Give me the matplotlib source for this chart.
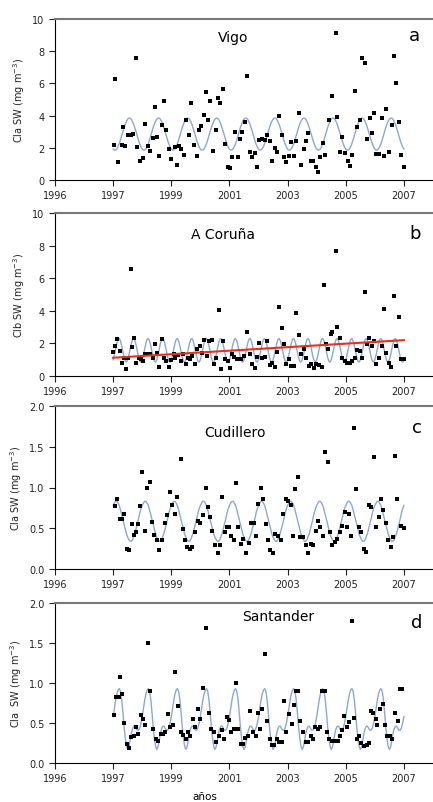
import numpy as np
import matplotlib.pyplot as plt

# Monthly surface chlorophyll observations (decimal year, mg m-3)
vigo_t = [1997.02, 1997.08, 1997.17, 1997.29, 1997.34, 1997.42, 1997.52, 1997.60, 1997.68, 1997.77,
          1997.83, 1997.94, 1998.02, 1998.11, 1998.19, 1998.28, 1998.36, 1998.43, 1998.51, 1998.59,
          1998.69, 1998.75, 1998.82, 1998.91, 1999.00, 1999.11, 1999.18, 1999.26, 1999.35, 1999.43,
          1999.52, 1999.60, 1999.69, 1999.78, 1999.87, 1999.95, 2000.03, 2000.11, 2000.18, 2000.26,
          2000.34, 2000.43, 2000.52, 2000.60, 2000.69, 2000.77, 2000.86, 2000.95, 2001.03, 2001.10,
          2001.19, 2001.28, 2001.36, 2001.44, 2001.53, 2001.61, 2001.69, 2001.78, 2001.87, 2001.95,
          2002.03, 2002.13, 2002.21, 2002.30, 2002.38, 2002.47, 2002.56, 2002.64, 2002.72, 2002.79,
          2002.87, 2002.95, 2003.04, 2003.12, 2003.22, 2003.30, 2003.39, 2003.47, 2003.55, 2003.62,
          2003.71, 2003.79, 2003.87, 2003.96, 2004.05, 2004.13, 2004.21, 2004.30, 2004.44, 2004.53,
          2004.65, 2004.71, 2004.79, 2004.88, 2004.99, 2005.08, 2005.14, 2005.20, 2005.31, 2005.39,
          2005.49, 2005.57, 2005.66, 2005.74, 2005.82, 2005.89, 2005.97, 2006.05, 2006.14, 2006.23,
          2006.31, 2006.39, 2006.48, 2006.60, 2006.66, 2006.74, 2006.83, 2006.91, 2006.99]
vigo_v = [2.2, 6.3, 1.1, 2.2, 3.27, 2.1, 2.8, 2.8, 2.85, 7.55,
          2.03, 1.15, 1.35, 3.45, 2.1, 1.8, 2.6, 4.55, 2.65, 1.5,
          3.4, 4.9, 3.1, 1.9, 1.3, 2.05, 0.95, 2.1, 1.93, 1.55,
          3.73, 2.8, 4.8, 2.17, 1.5, 3.1, 3.37, 4.03, 5.45, 3.7,
          4.9, 1.8, 3.1, 5.1, 4.8, 5.65, 2.23, 0.78, 0.72, 1.45,
          3.0, 1.45, 2.55, 3.0, 3.6, 6.45, 1.72, 1.4, 1.68, 0.83,
          2.48, 2.55, 2.48, 2.8, 2.45, 1.15, 1.99, 1.72, 3.95, 2.8,
          1.41, 1.1, 1.5, 2.38, 1.5, 2.45, 4.15, 0.95, 1.93, 2.45,
          2.92, 1.15, 1.15, 0.8, 0.52, 1.4, 2.28, 1.55, 3.7, 5.2,
          9.13, 3.9, 1.76, 2.7, 1.66, 1.15, 0.9, 1.55, 5.5, 3.3,
          3.75, 7.6, 7.25, 2.55, 3.85, 2.9, 4.15, 1.62, 1.62, 3.85,
          1.5, 4.4, 1.72, 3.4, 7.7, 6.0, 3.6, 1.55, 0.83]

coruna_t = [1997.00, 1997.06, 1997.14, 1997.22, 1997.29, 1997.37, 1997.45, 1997.52, 1997.61, 1997.65,
            1997.73, 1997.80, 1997.88, 1997.96, 1998.04, 1998.11, 1998.19, 1998.28, 1998.36, 1998.43,
            1998.51, 1998.59, 1998.69, 1998.75, 1998.83, 1998.91, 1998.99, 1999.08, 1999.14, 1999.24,
            1999.32, 1999.40, 1999.49, 1999.56, 1999.64, 1999.72, 1999.81, 1999.90, 1999.97, 2000.06,
            2000.14, 2000.22, 2000.31, 2000.39, 2000.47, 2000.54, 2000.63, 2000.70, 2000.78, 2000.86,
            2000.95, 2001.03, 2001.10, 2001.17, 2001.25, 2001.32, 2001.40, 2001.50, 2001.61, 2001.69,
            2001.78, 2001.87, 2001.95, 2002.03, 2002.13, 2002.21, 2002.30, 2002.38, 2002.47, 2002.56,
            2002.64, 2002.72, 2002.79, 2002.87, 2002.95, 2003.04, 2003.12, 2003.22, 2003.30, 2003.39,
            2003.47, 2003.55, 2003.64, 2003.73, 2003.81, 2003.90, 2003.98, 2004.08, 2004.17, 2004.25,
            2004.33, 2004.40, 2004.48, 2004.53, 2004.65, 2004.71, 2004.79, 2004.88, 2004.97, 2005.05,
            2005.13, 2005.22, 2005.31, 2005.39, 2005.48, 2005.57, 2005.66, 2005.74, 2005.80, 2005.89,
            2005.97, 2006.05, 2006.14, 2006.23, 2006.31, 2006.39, 2006.48, 2006.56, 2006.66, 2006.74,
            2006.83, 2006.91, 2006.99]
coruna_v = [1.5, 1.85, 2.26, 1.54, 0.82, 1.13, 0.45, 1.13, 6.57, 1.79,
            2.32, 0.82, 1.09, 1.03, 0.92, 1.38, 1.38, 1.38, 1.13, 1.99,
            1.44, 0.55, 2.26, 1.13, 0.92, 0.55, 0.97, 1.33, 1.13, 1.27,
            0.92, 1.38, 0.72, 1.13, 1.03, 1.23, 0.76, 1.64, 1.85, 1.44,
            2.2, 1.23, 2.16, 2.2, 0.76, 1.13, 4.05, 0.41, 2.16, 1.03,
            0.92, 0.51, 1.33, 1.17, 1.03, 1.03, 1.03, 1.23, 2.73, 1.33,
            0.72, 0.51, 1.17, 2.05, 1.13, 1.17, 2.16, 0.68, 0.82, 0.55,
            1.5, 4.25, 2.94, 1.95, 0.72, 1.03, 0.62, 0.62, 3.84, 2.53,
            1.38, 1.64, 1.13, 0.62, 0.72, 0.51, 0.72, 0.68, 0.55, 5.6,
            1.95, 1.64, 2.57, 2.67, 7.66, 2.98, 2.36, 1.13, 0.92, 0.82,
            0.82, 0.92, 1.09, 1.58, 1.54, 1.13, 5.13, 1.99, 2.32, 1.85,
            2.16, 0.72, 1.13, 1.85, 4.1, 1.44, 0.82, 0.55, 4.93, 1.85,
            3.59, 1.03, 1.03]

cudillero_t = [1997.06, 1997.14, 1997.22, 1997.31, 1997.39, 1997.48, 1997.56, 1997.65, 1997.71, 1997.79,
               1997.86, 1997.94, 1998.00, 1998.08, 1998.17, 1998.25, 1998.34, 1998.42, 1998.51, 1998.59,
               1998.69, 1998.77, 1998.86, 1998.94, 1999.03, 1999.11, 1999.19, 1999.32, 1999.40, 1999.47,
               1999.55, 1999.63, 1999.72, 1999.83, 1999.91, 2000.00, 2000.10, 2000.18, 2000.26, 2000.34,
               2000.41, 2000.50, 2000.59, 2000.67, 2000.75, 2000.83, 2000.91, 2000.98, 2001.06, 2001.14,
               2001.23, 2001.30, 2001.39, 2001.48, 2001.58, 2001.67, 2001.75, 2001.83, 2001.92, 2001.99,
               2002.07, 2002.15, 2002.24, 2002.32, 2002.41, 2002.49, 2002.58, 2002.67, 2002.76, 2002.84,
               2002.93, 2003.01, 2003.10, 2003.18, 2003.27, 2003.35, 2003.44, 2003.53, 2003.62, 2003.70,
               2003.79, 2003.87, 2003.96, 2004.05, 2004.13, 2004.21, 2004.30, 2004.39, 2004.45, 2004.53,
               2004.63, 2004.71, 2004.79, 2004.88, 2004.96, 2005.03, 2005.11, 2005.19, 2005.27, 2005.36,
               2005.45, 2005.54, 2005.62, 2005.70, 2005.80, 2005.88, 2005.97, 2006.05, 2006.14, 2006.22,
               2006.29, 2006.37, 2006.45, 2006.54, 2006.62, 2006.69, 2006.77, 2006.89, 2006.99]
cudillero_v = [0.77, 0.86, 0.61, 0.61, 0.68, 0.25, 0.23, 0.55, 0.42, 0.45,
               0.55, 0.77, 1.19, 0.47, 1.0, 1.07, 0.58, 0.42, 0.35, 0.23,
               0.36, 0.57, 0.66, 0.94, 0.78, 0.68, 0.88, 1.35, 0.49, 0.35,
               0.27, 0.25, 0.27, 0.45, 0.59, 0.57, 0.66, 0.99, 0.76, 0.64,
               0.47, 0.29, 0.2, 0.29, 0.88, 0.45, 0.51, 0.51, 0.41, 0.35,
               1.05, 0.51, 0.31, 0.37, 0.2, 0.32, 0.57, 0.57, 0.41, 0.8,
               0.99, 0.86, 0.55, 0.35, 0.23, 0.2, 0.43, 0.41, 0.35, 0.68,
               0.86, 0.84, 0.78, 0.41, 0.98, 1.13, 0.39, 0.39, 0.29, 0.2,
               0.31, 0.29, 0.47, 0.59, 0.51, 0.41, 1.44, 1.31, 0.45, 0.29,
               0.33, 0.37, 0.45, 0.53, 0.7, 0.51, 0.68, 0.41, 1.73, 0.98,
               0.51, 0.46, 0.24, 0.21, 0.79, 0.76, 1.37, 0.51, 0.64, 0.86,
               0.72, 0.57, 0.35, 0.27, 0.39, 1.39, 0.86, 0.53, 0.5]

santander_t = [1997.03, 1997.11, 1997.20, 1997.23, 1997.31, 1997.38, 1997.46, 1997.54, 1997.63, 1997.71,
               1997.79, 1997.86, 1997.95, 1998.03, 1998.11, 1998.20, 1998.28, 1998.36, 1998.46, 1998.55,
               1998.63, 1998.72, 1998.80, 1998.89, 1998.97, 1999.05, 1999.14, 1999.24, 1999.33, 1999.41,
               1999.49, 1999.58, 1999.66, 1999.75, 1999.83, 1999.92, 2000.00, 2000.10, 2000.21, 2000.29,
               2000.38, 2000.47, 2000.55, 2000.64, 2000.73, 2000.82, 2000.90, 2000.98, 2001.07, 2001.15,
               2001.22, 2001.30, 2001.38, 2001.47, 2001.55, 2001.64, 2001.72, 2001.82, 2001.90, 2001.97,
               2002.05, 2002.13, 2002.22, 2002.30, 2002.38, 2002.45, 2002.54, 2002.62, 2002.70, 2002.79,
               2002.88, 2002.96, 2003.04, 2003.14, 2003.22, 2003.28, 2003.36, 2003.44, 2003.54, 2003.62,
               2003.71, 2003.79, 2003.87, 2003.94, 2004.03, 2004.11, 2004.19, 2004.28, 2004.36, 2004.44,
               2004.53, 2004.63, 2004.72, 2004.80, 2004.88, 2004.95, 2005.04, 2005.12, 2005.22, 2005.29,
               2005.37, 2005.46, 2005.54, 2005.63, 2005.72, 2005.80, 2005.87, 2005.94, 2006.03, 2006.09,
               2006.18, 2006.27, 2006.35, 2006.43, 2006.52, 2006.60, 2006.71, 2006.80, 2006.86, 2006.95]
santander_v = [0.6, 0.82, 0.82, 1.07, 0.86, 0.5, 0.24, 0.19, 0.32, 0.34,
               0.45, 0.36, 0.6, 0.55, 0.47, 1.5, 0.9, 0.43, 0.3, 0.28,
               0.36, 0.36, 0.39, 0.61, 0.45, 0.48, 1.14, 0.71, 0.39, 0.35,
               0.3, 0.39, 0.34, 0.55, 0.45, 0.67, 0.55, 0.94, 1.69, 0.63,
               0.43, 0.39, 0.26, 0.34, 0.41, 0.3, 0.57, 0.54, 0.39, 0.43,
               1.0, 0.42, 0.24, 0.24, 0.31, 0.34, 0.65, 0.39, 0.34, 0.63,
               0.43, 0.67, 1.36, 0.52, 0.3, 0.23, 0.22, 0.3, 0.26, 0.26,
               0.78, 0.39, 0.61, 0.49, 0.72, 0.9, 0.9, 0.52, 0.39, 0.26,
               0.26, 0.34, 0.3, 0.45, 0.42, 0.45, 0.9, 0.9, 0.39, 0.3,
               0.28, 0.28, 0.28, 0.34, 0.41, 0.59, 0.45, 0.51, 1.78, 0.56,
               0.3, 0.34, 0.25, 0.21, 0.22, 0.25, 0.65, 0.63, 0.55, 0.48,
               0.67, 0.74, 0.47, 0.34, 0.34, 0.3, 0.63, 0.52, 0.92, 0.92]

# Fitted seasonal cycle, read at half-month steps through one year (repeats each year)
vigo_cycle = [1.92, 1.86, 1.86, 1.93, 2.07, 2.25, 2.48, 2.74, 3.00, 3.25, 3.47, 3.65,
              3.78, 3.84, 3.84, 3.77, 3.63, 3.45, 3.22, 2.97, 2.70, 2.45, 2.23, 2.05]
coruna_cycle = [0.99, 1.28, 1.65, 2.00, 2.24, 2.30, 2.16, 1.87, 1.50, 1.15, 0.91, 0.85,
                0.99, 1.28, 1.65, 2.00, 2.24, 2.30, 2.16, 1.87, 1.50, 1.15, 0.91, 0.85]
cudillero_cycle = [0.78, 0.81, 0.83, 0.83, 0.81, 0.78, 0.73, 0.67, 0.61, 0.55, 0.49, 0.43,
                   0.39, 0.36, 0.34, 0.34, 0.36, 0.40, 0.44, 0.50, 0.56, 0.62, 0.69, 0.74]
santander_cycle = [0.58, 0.68, 0.78, 0.86, 0.91, 0.93, 0.90, 0.80, 0.64, 0.46, 0.31, 0.21,
                   0.17, 0.20, 0.28, 0.37, 0.43, 0.46, 0.46, 0.43, 0.41, 0.41, 0.44, 0.50]
fit_years = list(range(1997, 2007))

# Linear trend at A Coruña (start, end)
trend_t = [1997.0, 2007.0]
trend_v = [1.12, 2.20]

names = ['Vigo', 'A Coruña', 'Cudillero', 'Santander']
letters = ['a', 'b', 'c', 'd']
ylabels = ['Cla SW (mg m$^{-3}$)', 'Clb SW (mg m$^{-3}$)', 'Cla SW (mg m$^{-3}$)', 'Cla  SW (mg m$^{-3}$)']
xtick_pos = [1995, 1997, 1999, 2001, 2003, 2005, 2007]
xtick_lab = ['1996', '1997', '1999', '2001', '2003', '2005', '2007']

series = [(vigo_t, vigo_v, vigo_cycle), (coruna_t, coruna_v, coruna_cycle),
          (cudillero_t, cudillero_v, cudillero_cycle), (santander_t, santander_v, santander_cycle)]

# layout in pixels: (top, bottom) of each axes
boxes = [(20, 181), (214, 377), (407, 570), (604, 764)]
name_pos = [(0.47, 0.89), (0.445, 0.87), (0.476, 0.84), (0.59, 0.92)]
letter_pos = [(0.952, 0.90), (0.952, 0.88), (0.957, 0.87), (0.957, 0.88)]

W, H = 433, 803
fig = plt.figure(figsize=(W / 100, H / 100), dpi=100)

for i, (t, v, cyc) in enumerate(series):
    top, bot = boxes[i]
    ax = fig.add_axes([55 / W, 1 - bot / H, (W - 55) / W, (bot - top) / H])

    # fitted curve
    ft = np.concatenate([y + np.arange(24) / 24.0 for y in fit_years] + [[2007.0]])
    fv = np.concatenate([cyc] * len(fit_years) + [[cyc[0]]])
    ax.plot(ft, fv, color='#8aa8d8', lw=1.0, zorder=2)

    ax.scatter(t, v, s=6, marker='s', color='black', zorder=3, linewidths=0)

    if i == 1:
        ax.plot(trend_t, trend_v, color='#e8301c', lw=1.5, zorder=4)

    ax.set_xlim(1995, 2008)
    ax.set_xticks(xtick_pos)
    ax.set_xticklabels(xtick_lab)
    if i < 2:
        ax.set_ylim(0, 10)
        ax.set_yticks([0, 2, 4, 6, 8, 10])
    else:
        ax.set_ylim(0, 2.0)
        ax.set_yticks([0.0, 0.5, 1.0, 1.5, 2.0])
        ax.set_yticklabels(['0.0', '0.5', '1.0', '1.5', '2.0'])

    ax.tick_params(direction='out', length=4, width=0.8, labelsize=7, colors='#222222')
    ax.spines['right'].set_visible(False)
    ax.spines['top'].set_color('#777777')
    ax.spines['top'].set_linewidth(1.5)
    ax.set_ylabel(ylabels[i], fontsize=7, color='#222222')

    ax.text(name_pos[i][0], name_pos[i][1], names[i], transform=ax.transAxes,
            ha='center', va='center', fontsize=10)
    ax.text(letter_pos[i][0], letter_pos[i][1], letters[i], transform=ax.transAxes,
            ha='center', va='center', fontsize=13)

fig.text(205 / W, 1 - 797 / H, 'años', ha='center', va='center', fontsize=7.5)

plt.savefig('out.png', dpi=100)
